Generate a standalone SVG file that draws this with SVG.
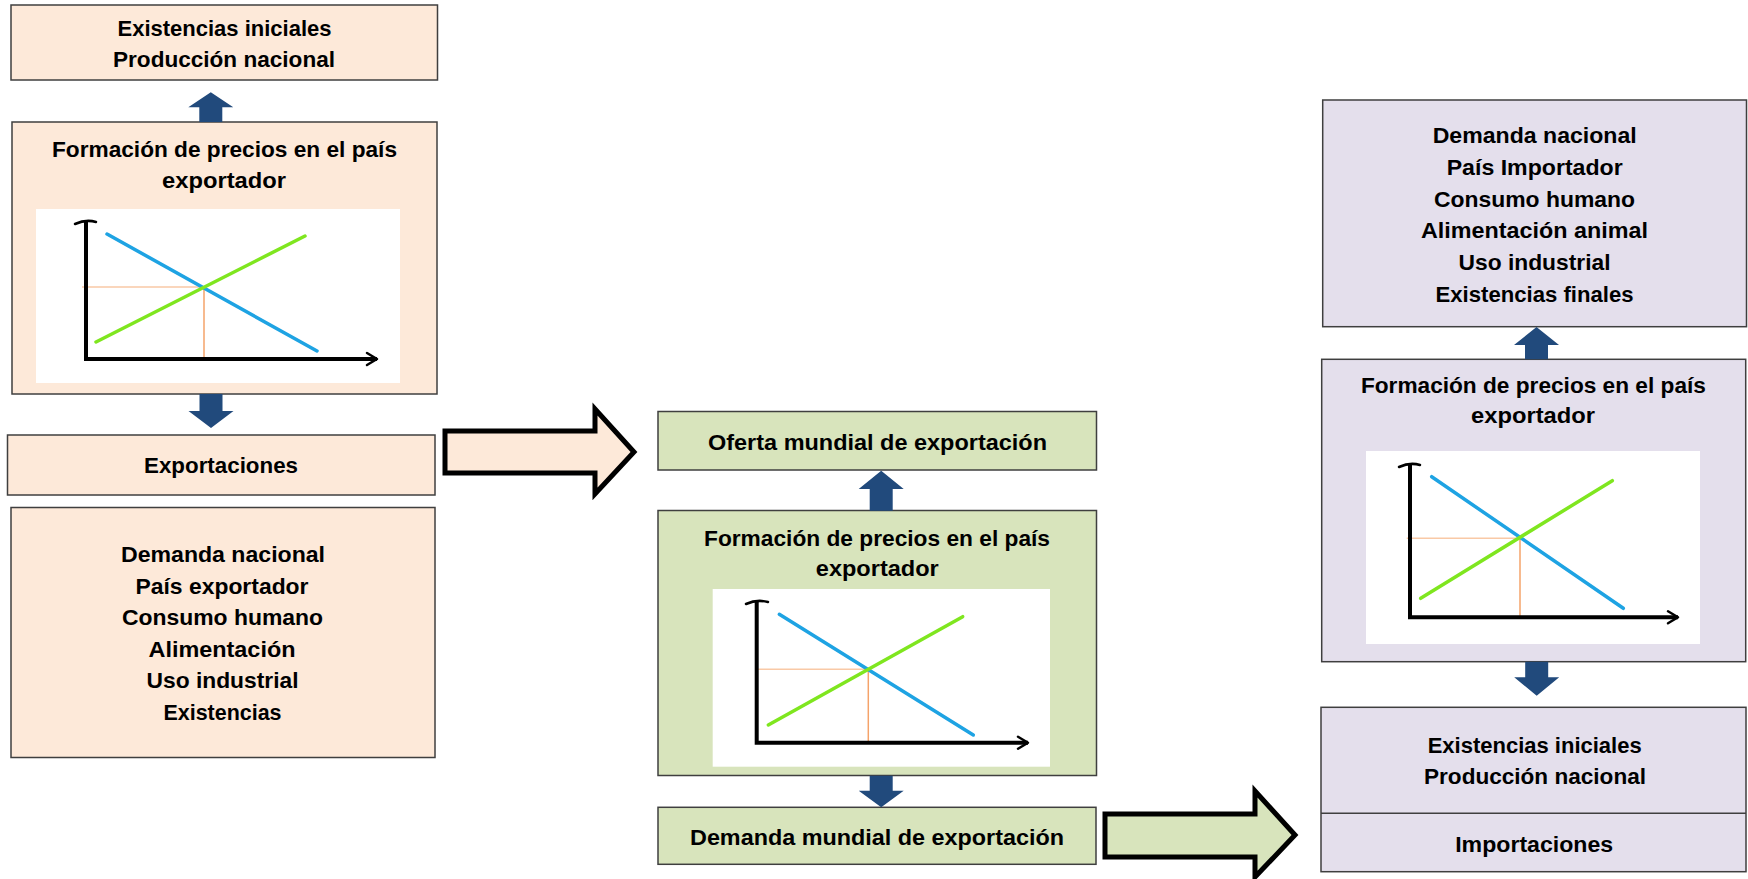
<svg xmlns="http://www.w3.org/2000/svg" width="1748" height="879" viewBox="0 0 1748 879">
<style>
.t{font-family:"Liberation Sans",Arial,sans-serif;font-weight:bold;font-size:22px;fill:#000;text-anchor:middle}
.peach{fill:#fde9d9;stroke:#3f3f3f;stroke-width:1.5}
.green{fill:#d8e4bc;stroke:#3f3f3f;stroke-width:1.5}
.lav{fill:#e4dfec;stroke:#3f3f3f;stroke-width:1.5}
.chart{fill:#fff}
.axis{fill:none;stroke:#000;stroke-width:4;stroke-linecap:square}
.cap{fill:none;stroke:#000;stroke-width:2.5;stroke-linecap:round}
.head{fill:none;stroke:#000;stroke-width:2.5;stroke-linecap:round;stroke-linejoin:round}
.blue{stroke:#1ea3e3;stroke-width:3.5;stroke-linecap:round}
.lime{stroke:#7fe61f;stroke-width:3.5;stroke-linecap:round}
.oh{stroke:#f9c9a6;stroke-width:1.5}
.ov{stroke:#f5a36a;stroke-width:1.5}
.barrow{fill:#214a7c}
.big{stroke:#000;stroke-width:5;stroke-linejoin:miter}
</style>

<g id="left-supply">
<rect class="peach" x="11" y="5" width="426.5" height="75"/>
<text class="t" x="224.5" y="36" textLength="214" lengthAdjust="spacingAndGlyphs">Existencias iniciales</text>
<text class="t" x="224" y="67" textLength="222" lengthAdjust="spacingAndGlyphs">Producción nacional</text>
</g>

<g id="left-prices">
<rect class="peach" x="12" y="122" width="425" height="272"/>
<text class="t" x="224.5" y="156.5" textLength="345" lengthAdjust="spacingAndGlyphs">Formación de precios en el país</text>
<text class="t" x="224" y="188" textLength="124" lengthAdjust="spacingAndGlyphs">exportador</text>
<rect class="chart" x="36" y="209" width="364" height="174"/>
<line class="oh" x1="82" y1="287" x2="204" y2="287"/>
<line class="ov" x1="204" y1="287" x2="204" y2="359"/>
<line class="blue" x1="107" y1="234" x2="317" y2="351"/>
<line class="lime" x1="96" y1="342" x2="305" y2="236"/>
<path class="axis" d="M86,223 L86,359 L375,359"/>
<path class="cap" d="M75,224 Q86,219 96,222"/>
<path class="head" d="M367,353 L377,359 L367,365"/>
</g>

<g id="left-exports">
<rect class="peach" x="7.5" y="435" width="427.5" height="60"/>
<text class="t" x="221" y="473" textLength="154" lengthAdjust="spacingAndGlyphs">Exportaciones</text>
</g>

<g id="left-demand">
<rect class="peach" x="11" y="507.5" width="424" height="250"/>
<text class="t" x="223" y="562" textLength="204" lengthAdjust="spacingAndGlyphs">Demanda nacional</text>
<text class="t" x="222" y="594" textLength="173" lengthAdjust="spacingAndGlyphs">País exportador</text>
<text class="t" x="222.5" y="625" textLength="201" lengthAdjust="spacingAndGlyphs">Consumo humano</text>
<text class="t" x="222" y="656.5" textLength="147" lengthAdjust="spacingAndGlyphs">Alimentación</text>
<text class="t" x="222.5" y="688" textLength="152" lengthAdjust="spacingAndGlyphs">Uso industrial</text>
<text class="t" x="222.5" y="720" textLength="118" lengthAdjust="spacingAndGlyphs">Existencias</text>
</g>

<g id="mid-offer">
<rect class="green" x="658" y="411.5" width="438.5" height="58.5"/>
<text class="t" x="877.5" y="450" textLength="339" lengthAdjust="spacingAndGlyphs">Oferta mundial de exportación</text>
</g>

<g id="mid-prices">
<rect class="green" x="658" y="510.5" width="438.5" height="265"/>
<text class="t" x="877" y="545.5" textLength="346" lengthAdjust="spacingAndGlyphs">Formación de precios en el país</text>
<text class="t" x="877.3" y="575.5" textLength="123" lengthAdjust="spacingAndGlyphs">exportador</text>
<rect class="chart" x="712.7" y="589" width="337.3" height="177.7"/>
<line class="oh" x1="755" y1="669.3" x2="868.3" y2="669.3"/>
<line class="ov" x1="868.3" y1="669.3" x2="868.3" y2="742.7"/>
<line class="blue" x1="779.3" y1="614.3" x2="973.3" y2="735"/>
<line class="lime" x1="768.3" y1="725" x2="962.7" y2="616.7"/>
<path class="axis" d="M756.7,603 L756.7,742.7 L1026,742.7"/>
<path class="cap" d="M746,604 Q757,599 768,602"/>
<path class="head" d="M1018,736.7 L1028,742.7 L1018,748.7"/>
</g>

<g id="mid-demand">
<rect class="green" x="658" y="807.3" width="438" height="57"/>
<text class="t" x="877" y="845" textLength="374" lengthAdjust="spacingAndGlyphs">Demanda mundial de exportación</text>
</g>

<g id="right-demand">
<rect class="lav" x="1322.7" y="100" width="423.8" height="226.7"/>
<text class="t" x="1534.7" y="143.3" textLength="204" lengthAdjust="spacingAndGlyphs">Demanda nacional</text>
<text class="t" x="1534.7" y="175" textLength="176" lengthAdjust="spacingAndGlyphs">País Importador</text>
<text class="t" x="1534.5" y="206.7" textLength="201" lengthAdjust="spacingAndGlyphs">Consumo humano</text>
<text class="t" x="1534.5" y="238.3" textLength="227" lengthAdjust="spacingAndGlyphs">Alimentación animal</text>
<text class="t" x="1534.5" y="270" textLength="152" lengthAdjust="spacingAndGlyphs">Uso industrial</text>
<text class="t" x="1534.5" y="301.7" textLength="198" lengthAdjust="spacingAndGlyphs">Existencias finales</text>
</g>

<g id="right-prices">
<rect class="lav" x="1321.7" y="359.3" width="424" height="302.4"/>
<text class="t" x="1533.4" y="393.3" textLength="345" lengthAdjust="spacingAndGlyphs">Formación de precios en el país</text>
<text class="t" x="1533" y="423.3" textLength="124" lengthAdjust="spacingAndGlyphs">exportador</text>
<rect class="chart" x="1366" y="451" width="334" height="193"/>
<line class="oh" x1="1406.7" y1="538.3" x2="1520" y2="538.3"/>
<line class="ov" x1="1520" y1="538.3" x2="1520" y2="617.3"/>
<line class="blue" x1="1431.7" y1="476.7" x2="1623.3" y2="608.3"/>
<line class="lime" x1="1420.7" y1="598.3" x2="1612.3" y2="480.7"/>
<path class="axis" d="M1410,466 L1410,617.3 L1676,617.3"/>
<path class="cap" d="M1399,467 Q1410,462 1420,465"/>
<path class="head" d="M1668,611.3 L1678,617.3 L1668,623.3"/>
</g>

<g id="right-supply">
<rect class="lav" x="1321" y="707.3" width="425" height="164.4"/>
<line x1="1321" y1="813.3" x2="1746" y2="813.3" stroke="#3f3f3f" stroke-width="1.5"/>
<text class="t" x="1534.7" y="752.7" textLength="214" lengthAdjust="spacingAndGlyphs">Existencias iniciales</text>
<text class="t" x="1535" y="784" textLength="222" lengthAdjust="spacingAndGlyphs">Producción nacional</text>
<text class="t" x="1534.2" y="851.7" textLength="158" lengthAdjust="spacingAndGlyphs">Importaciones</text>
</g>

<g id="connectors">
<path class="barrow" d="M210.8,92.3 L233.3,107.3 L222.3,107.3 L222.3,122 L199.3,122 L199.3,107.3 L188.3,107.3 Z"/>
<path class="barrow" d="M211,428 L233.5,411 L222.5,411 L222.5,394 L199.5,394 L199.5,411 L188.5,411 Z"/>
<path class="barrow" d="M881.2,470.7 L903.7,489 L892.7,489 L892.7,510.7 L869.7,510.7 L869.7,489 L858.7,489 Z"/>
<path class="barrow" d="M881.2,807.3 L903.7,790.7 L892.7,790.7 L892.7,775.7 L869.7,775.7 L869.7,790.7 L858.7,790.7 Z"/>
<path class="barrow" d="M1536.5,327 L1559,345 L1548,345 L1548,359.3 L1525,359.3 L1525,345 L1514,345 Z"/>
<path class="barrow" d="M1536.7,695.7 L1559.2,677.3 L1548.2,677.3 L1548.2,661.7 L1525.2,661.7 L1525.2,677.3 L1514.2,677.3 Z"/>
<path class="big" fill="#fde9d9" d="M445,431 L595,431 L595,409 L634,452 L595,494 L595,473 L445,473 Z"/>
<path class="big" fill="#d8e4bc" d="M1105,814 L1255,814 L1255,791 L1295,835 L1255,877 L1255,857 L1105,857 Z"/>
</g>
</svg>
